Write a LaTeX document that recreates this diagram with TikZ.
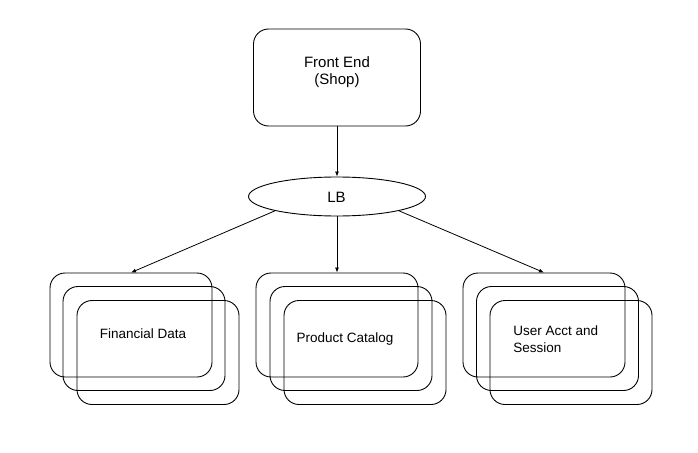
\documentclass[tikz,border=0pt]{standalone}
\usepackage{fontspec}
\setmainfont{Liberation Sans}
\usetikzlibrary{shapes.geometric,arrows.meta}
\begin{document}
\begin{tikzpicture}[x=1pt,y=-1pt,
  every path/.style={line width=0.9pt},
  stackbox/.style={draw, rectangle, rounded corners=15pt, minimum width=162pt, minimum height=104pt, inner sep=0pt},
  febox/.style={draw, rectangle, rounded corners=15pt, minimum width=167pt, minimum height=97pt, inner sep=0pt},
  lbell/.style={draw, ellipse, minimum width=177pt, minimum height=39pt, inner sep=0pt},
  lab/.style={font=\fontsize{13.5}{16.5}\selectfont, inner sep=0pt},
  conn/.style={-{Latex[length=5pt,width=4pt]}, line width=0.8pt}
]
\useasboundingbox (0,0) rectangle (698,452);
\fill[white] (0,0) rectangle (698,452);

\node[febox] (fe) at (337,77.5) {};
\node[inner sep=0pt, align=center, font=\fontsize{15}{17}\selectfont] (fet) at (337,72) {Front End\\(Shop)};

\node[lbell] (lb) at (337,196.5) {};
\node[inner sep=0pt, font=\fontsize{15}{17}\selectfont] (lbt) at (336.5,197) {LB};

% Financial Data stack
\node[stackbox] (fd1) at (131,325) {};
\node[stackbox] (fd2) at (144,338.5) {};
\node[stackbox] (fd3) at (158,352.5) {};
\node[lab] (fdt) at (143,334) {Financial Data};

% Product Catalog stack
\node[stackbox] (pc1) at (337,325) {};
\node[stackbox] (pc2) at (351,338.5) {};
\node[stackbox] (pc3) at (365,352.5) {};
\node[lab] (pct) at (345,339) {Product Catalog};

% User Acct stack
\node[stackbox] (ua1) at (544,325) {};
\node[stackbox] (ua2) at (557.5,338.5) {};
\node[stackbox] (ua3) at (571,352.5) {};
\node[lab, anchor=west, align=left] (uat) at (513,339) {User Acct and\\Session};

\draw[conn] (fe.south) -- (lb.north);
\draw[conn] (lb.193) -- (fd1.north);
\draw[conn] (lb.south) -- (pc1.north);
\draw[conn] (lb.347) -- (ua1.north);
\end{tikzpicture}
\end{document}
